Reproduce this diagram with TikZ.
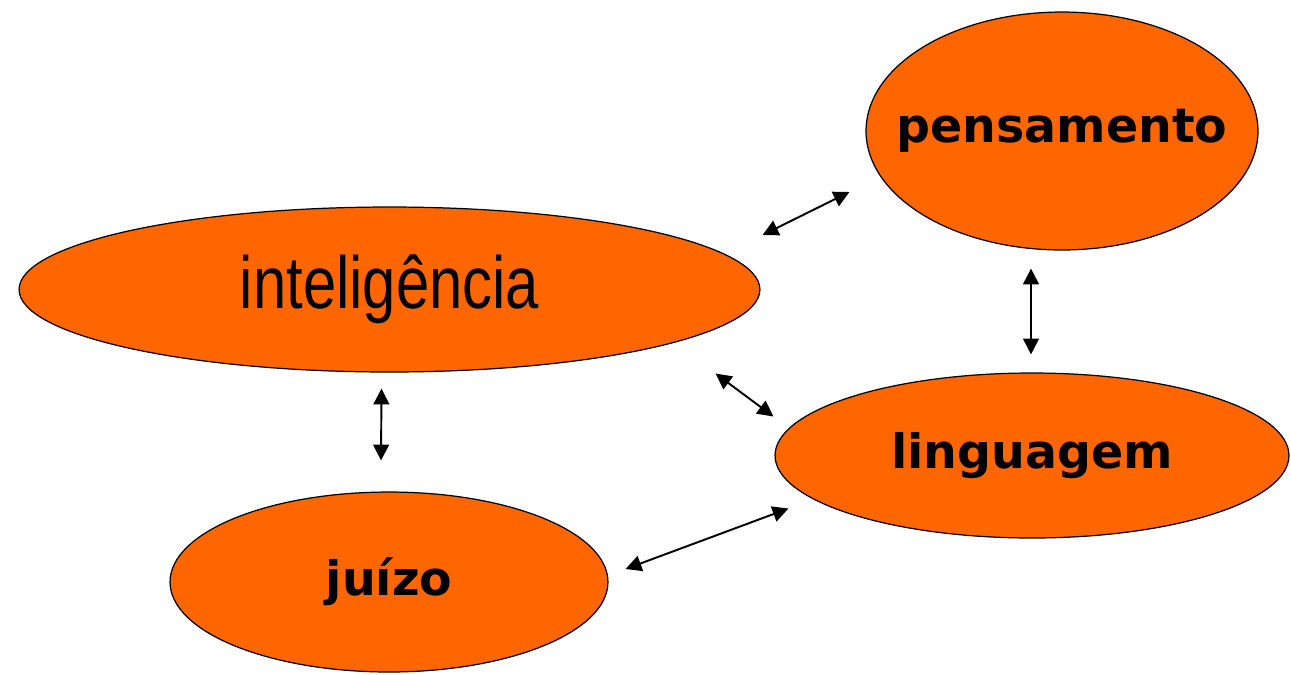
\documentclass[tikz,border=0pt]{standalone}
\usepackage{fontspec}
\setmainfont{DejaVu Sans}
\newfontfamily\narrowfont{Liberation Sans}
\usetikzlibrary{shapes.geometric,arrows.meta}

\definecolor{laranja}{HTML}{FF6600}
\newcommand{\texto}[1]{\makebox[0pt]{\raisebox{-2pt}{#1}}}

\begin{document}
\begin{tikzpicture}[x=0.02cm,y=-0.02cm,
  bolha/.style={ellipse,draw=black,line width=0.7pt,fill=laranja,inner sep=0pt},
  rotulo/.style={font=\fontsize{27}{31}\selectfont\bfseries},
  dupla/.style={{Triangle[length=9pt,width=9pt]}-{Triangle[length=9pt,width=9pt]},line width=1.1pt}]

\useasboundingbox (0,0) rectangle (1291,674);

\node[bolha,minimum width=14.82cm,minimum height=3.3cm] (intel) at (389.5,289.5)
   {\texto{\narrowfont\fontsize{42}{48}\selectfont\scalebox{0.81}[1]{inteligência}}};
\node[bolha,rotulo,minimum width=7.84cm,minimum height=4.76cm] (pens) at (1062,131) {\texto{pensamento}};
\node[bolha,rotulo,minimum width=10.28cm,minimum height=3.3cm] (ling) at (1032,455.5) {\texto{linguagem}};
\node[bolha,rotulo,minimum width=8.76cm,minimum height=3.6cm] (juizo) at (389,582) {\texto{juízo}};

% setas entre os conceitos
\draw[dupla] ([shift={(2,-54.5)}]intel.east) -- ([shift={(-16,61)}]pens.west);
\draw[dupla] ([shift={(-31,18)}]pens.south) -- ([shift={(-1,-18)}]ling.north);
\draw[dupla] ([shift={(-45,84)}]intel.east) -- ([shift={(-1,-39)}]ling.west);
\draw[dupla] ([shift={(-8,16)}]intel.south) -- ([shift={(-8,-31)}]juizo.north);
\draw[dupla] ([shift={(17,-13)}]juizo.east) -- ([shift={(14,53)}]ling.west);
\end{tikzpicture}
\end{document}
